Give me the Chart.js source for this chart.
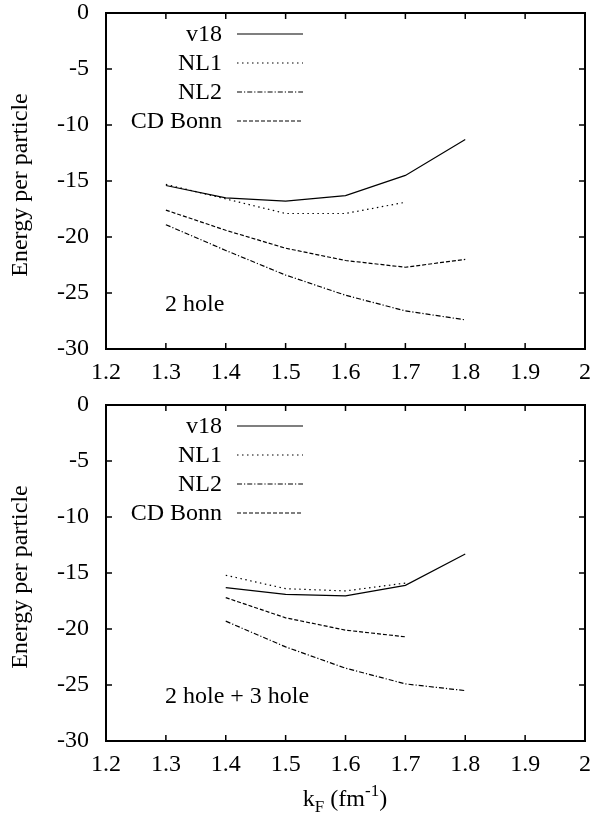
<!DOCTYPE html>
<html>
<head>
<meta charset="utf-8">
<script src="https://cdn.jsdelivr.net/npm/chart.js@4.4.1/dist/chart.umd.min.js"></script>
<style>
  body { margin: 0; background: #fff; }
  canvas { display: block; }
</style>
</head>
<body>
<canvas id="top" width="597" height="392"></canvas>
<canvas id="bottom" width="597" height="424"></canvas>
<script>
// k_F values (fm^-1)
const kF2 = [1.3, 1.4, 1.5, 1.6, 1.7, 1.8];
const kF3 = [1.4, 1.5, 1.6, 1.7, 1.8];

// 2 hole
const v18_2h = [-15.4, -16.5, -16.8, -16.3, -14.5, -11.3];
const nl1_2h = [-15.3, -16.6, -17.9, -17.9, -16.9, null];
const nl2_2h = [-18.9, -21.2, -23.4, -25.2, -26.6, -27.4];
const cdb_2h = [-17.6, -19.4, -21.0, -22.1, -22.7, -22.0];

// 2 hole + 3 hole
const v18_3h = [-16.3, -16.9, -17.05, -16.1, -13.3];
const nl1_3h = [-15.2, -16.4, -16.6, -15.9, null];
const nl2_3h = [-19.3, -21.6, -23.5, -24.9, -25.5];
const cdb_3h = [-17.2, -19.0, -20.1, -20.7, null];

const seriesNames = ['v18', 'NL1', 'NL2', 'CD Bonn'];
const dashes = [[], [1.5, 3.5], [5, 2, 1.2, 2], [4, 2]];
const xTicks = { min: 1.2, max: 2, step: 0.1 };
const yTicks = { min: -30, max: 0, step: 5 };

const FONT = '"Liberation Serif", "Times New Roman", Times, serif';
const FS = 24;
Chart.defaults.font.family = FONT;
Chart.defaults.font.size = FS;
Chart.defaults.color = '#000';

function pts(xs, ys) {
  return xs.map((x, i) => ({ x: x, y: ys[i] })).filter(p => p.y !== null);
}

// gnuplot-ish frame, inward ticks, legend and labels
const decor = {
  id: 'decor',
  afterDraw(chart, args, opts) {
    const ctx = chart.ctx;
    const a = chart.chartArea;
    const xs = chart.scales.x, ys = chart.scales.y;
    ctx.save();
    ctx.strokeStyle = '#000';
    ctx.lineWidth = 1.5;
    ctx.beginPath();
    xs.ticks.forEach(t => {
      const px = xs.getPixelForValue(t.value);
      if (px <= a.left + 1 || px >= a.right - 1) return;
      ctx.moveTo(px, a.bottom); ctx.lineTo(px, a.bottom - 6);
      ctx.moveTo(px, a.top); ctx.lineTo(px, a.top + 6);
    });
    ys.ticks.forEach(t => {
      const py = ys.getPixelForValue(t.value);
      if (py <= a.top + 1 || py >= a.bottom - 1) return;
      ctx.moveTo(a.left, py); ctx.lineTo(a.left + 6, py);
      ctx.moveTo(a.right, py); ctx.lineTo(a.right - 6, py);
    });
    ctx.stroke();
    ctx.lineWidth = 2;
    ctx.strokeRect(a.left, a.top, a.right - a.left, a.bottom - a.top);

    // legend
    ctx.font = FS + 'px ' + FONT;
    ctx.fillStyle = '#000';
    ctx.textBaseline = 'middle';
    chart.data.datasets.forEach((ds, i) => {
      const y = a.top + 21 + 29 * i;
      ctx.textAlign = 'right';
      ctx.fillText(ds.label, 222, y + 1);
      ctx.beginPath();
      ctx.lineWidth = ds.borderWidth;
      ctx.setLineDash(ds.borderDash || []);
      ctx.moveTo(237, y); ctx.lineTo(303, y);
      ctx.stroke();
    });
    ctx.setLineDash([]);

    // annotation
    ctx.textAlign = 'left';
    ctx.fillText(opts.note, 165, a.top + 292);

    // y axis title
    ctx.save();
    ctx.translate(21, a.top + 172);
    ctx.rotate(-Math.PI / 2);
    ctx.textAlign = 'center';
    ctx.fillText('Energy per particle', 0, 0);
    ctx.restore();

    // x axis title
    if (opts.xTitle) {
      const base = chart.height - 10;
      const big = FS + 'px ' + FONT, small = '17px ' + FONT;
      const parts = [
        ['k', big, 0], ['F', small, 6], [' (fm', big, 0], ['-1', small, -10], [')', big, 0]
      ];
      let w = 0;
      parts.forEach(p => { ctx.font = p[1]; w += ctx.measureText(p[0]).width; });
      let x = 345 - w / 2;
      ctx.textBaseline = 'alphabetic';
      parts.forEach(p => {
        ctx.font = p[1];
        ctx.fillText(p[0], x, base + p[2]);
        x += ctx.measureText(p[0]).width;
      });
    }
    ctx.restore();
  }
};

function makeChart(id, xs, series, note, xTitle, axisH) {
  const datasets = series.map((ys, i) => ({
    label: seriesNames[i],
    data: pts(xs, ys),
    borderColor: '#000',
    borderWidth: 1.2,
    borderDash: dashes[i],
    pointRadius: 0,
    tension: 0,
    fill: false
  }));
  return new Chart(document.getElementById(id), {
    type: 'line',
    data: { datasets: datasets },
    options: {
      responsive: false,
      animation: false,
      layout: { padding: { top: 13, right: 12, left: 0, bottom: 0 } },
      plugins: {
        legend: { display: false },
        tooltip: { enabled: false },
        decor: { note: note, xTitle: xTitle }
      },
      scales: {
        x: {
          type: 'linear',
          min: xTicks.min, max: xTicks.max,
          afterFit: s => { s.height = axisH; s.paddingLeft = 0; s.paddingRight = 0; },
          grid: { display: false, drawTicks: false },
          border: { display: false },
          ticks: {
            font: { family: FONT, size: FS },
            stepSize: xTicks.step,
            padding: 9,
            maxRotation: 0,
            autoSkip: false,
            callback: v => String(Math.round(v * 10) / 10)
          }
        },
        y: {
          min: yTicks.min, max: yTicks.max,
          afterFit: s => { s.width = 106; s.paddingTop = 0; s.paddingBottom = 0; },
          grid: { display: false, drawTicks: false },
          border: { display: false },
          ticks: {
            font: { family: FONT, size: FS },
            stepSize: yTicks.step,
            padding: 17
          }
        }
      }
    },
    plugins: [decor]
  });
}

function draw() {
  makeChart('top', kF2, [v18_2h, nl1_2h, nl2_2h, cdb_2h], '2 hole', false, 43);
  makeChart('bottom', kF3, [v18_3h, nl1_3h, nl2_3h, cdb_3h], '2 hole + 3 hole', true, 75);
}

document.fonts.load(FS + 'px "Liberation Serif"').then(draw, draw);
</script>
</body>
</html>
